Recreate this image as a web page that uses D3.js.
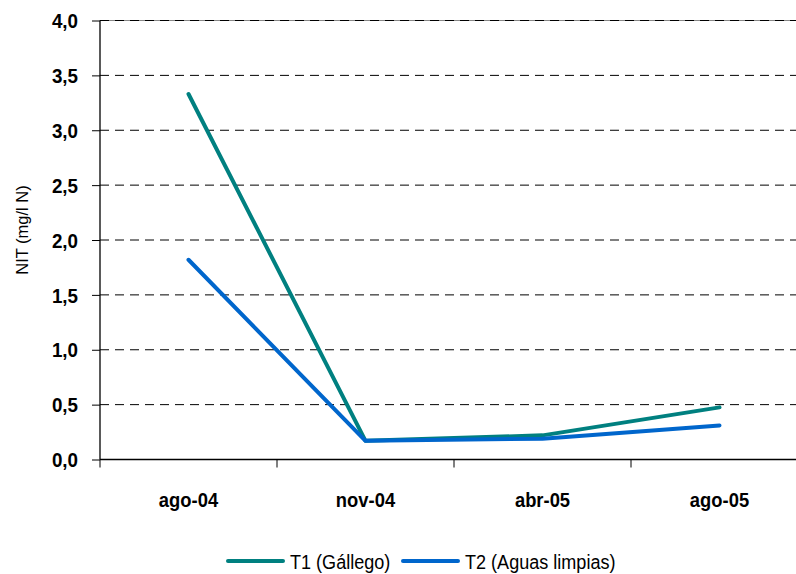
<!DOCTYPE html>
<html><head><meta charset="utf-8">
<script src="https://cdn.jsdelivr.net/npm/d3@7"></script>
<style>
body{margin:0;background:#fff;}
text{font-family:"Liberation Sans",Arial,sans-serif;}
</style></head>
<body><svg id="c" width="796" height="574"></svg>
<script>
const categories = ["ago-04","nov-04","abr-05","ago-05"];
const t1Values = [3.33, 0.17, 0.22, 0.475];
const t2Values = [1.82, 0.17, 0.19, 0.31];
const seriesNames = ["T1 (Gállego)","T2 (Aguas limpias)"];
const seriesColors = ["#008080","#0066CC"];
const yTicks = [0,0.5,1,1.5,2,2.5,3,3.5,4];

const svg = d3.select("#c");
const x = d3.scaleBand().domain(categories).range([100,808]);
const y = d3.scaleLinear().domain([0,4]).range([459.5,20.5]);

// gridlines
yTicks.filter(v=>v>0).forEach(v=>{
  if (v===4) svg.append("line").attr("x1",100).attr("x2",796).attr("y1",y(v)).attr("y2",y(v)).attr("stroke","#888").attr("stroke-width",1);
  svg.append("line").attr("x1",100).attr("x2",796).attr("y1",y(v)).attr("y2",y(v))
    .attr("stroke","#000").attr("stroke-width",1).attr("stroke-dasharray","9,6");
});

// y axis
const yAxis = d3.axisLeft(y).tickValues(yTicks).tickSize(8).tickPadding(14)
  .tickFormat(d=>d3.format(".1f")(d).replace(".",","));
const ya = svg.append("g").attr("transform","translate(100,0)").call(yAxis);
ya.select(".domain").attr("stroke","#000").attr("stroke-width",1.3).attr("d","M0,20.5V459.5");
ya.selectAll(".tick line").attr("stroke","#000");
ya.selectAll(".tick text").each(function(){
  const t = d3.select(this);
  t.attr("x",null).attr("transform","translate(-22,0) scale(0.94,1)")
   .attr("font-size",20).attr("font-weight","bold").attr("fill","#000")
   .attr("font-family","'Liberation Sans',Arial,sans-serif").attr("dy","0.36em");
});

// x axis
const xa = svg.append("g").attr("transform","translate(0,459.5)");
xa.append("line").attr("x1",100).attr("x2",796).attr("y1",0).attr("y2",0).attr("stroke","#000").attr("stroke-width",1.5);
categories.forEach(c=>{
  xa.append("line").attr("x1",x(c)).attr("x2",x(c)).attr("y1",0).attr("y2",8).attr("stroke","#000").attr("stroke-width",1);
  xa.append("text").attr("transform",`translate(${x(c)+x.bandwidth()/2},47.5) scale(0.92,1)`).attr("text-anchor","middle")
    .attr("font-size",20).attr("font-weight","bold").text(c);
});

// y title
svg.append("text").attr("transform","translate(28,230) rotate(-90)").attr("text-anchor","middle")
  .attr("font-size",16.5).text("NIT (mg/l N)");

// lines
const line = d3.line().x((d,i)=>x(categories[i])+x.bandwidth()/2).y(d=>y(d));
[t1Values,t2Values].forEach((vals,k)=>{
  svg.append("path").attr("d",line(vals)).attr("fill","none").attr("stroke",seriesColors[k])
    .attr("stroke-width",4).attr("stroke-linejoin","round").attr("stroke-linecap","round");
});

// legend
const legX = [228,403];
seriesNames.forEach((n,k)=>{
  svg.append("line").attr("x1",legX[k]).attr("x2",legX[k]+55).attr("y1",561).attr("y2",561)
    .attr("stroke",seriesColors[k]).attr("stroke-width",4).attr("stroke-linecap","round");
  svg.append("text").attr("transform",`translate(${legX[k]+62},569) scale(0.86,1)`).attr("font-size",21).text(n);
});
</script></body></html>
